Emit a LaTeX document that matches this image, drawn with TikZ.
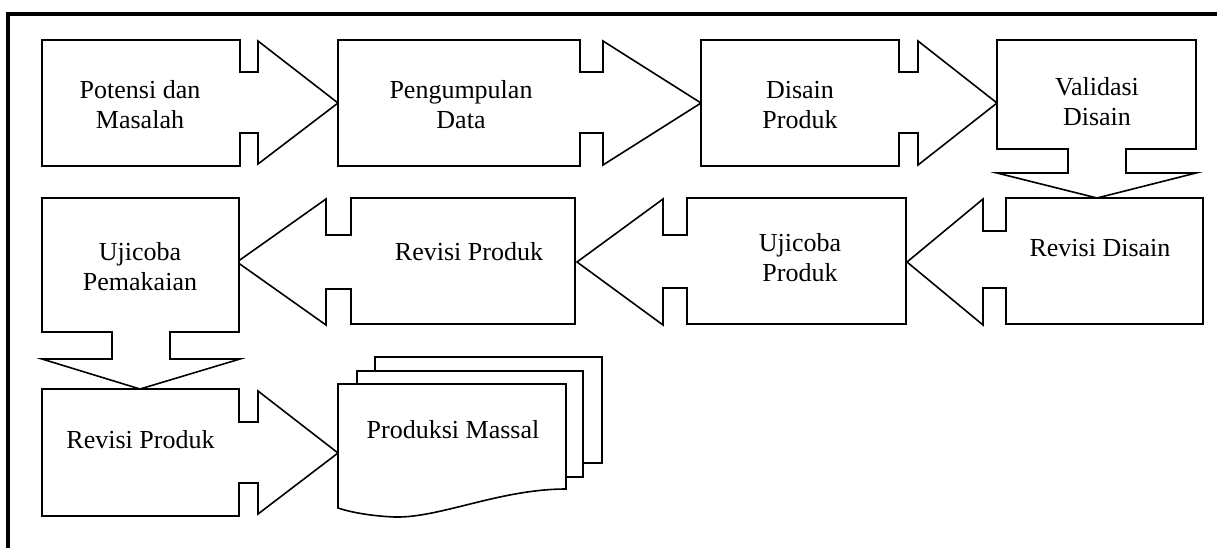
\documentclass[tikz,border=0pt]{standalone}
\usepackage{fontspec}
\setmainfont{Liberation Serif}
\begin{document}
\begin{tikzpicture}[x=1pt,y=-1pt,
  shp/.style={draw=black,line width=1.6pt,fill=white,line join=miter},
  lbl/.style={font=\fontsize{26}{30}\selectfont,inner sep=0pt,align=center,anchor=base,text=black}]
\useasboundingbox[fill=white] (0,0) rectangle (1217,547);
% frame
\draw[line width=3.4pt] (8,560) -- (8,14) -- (1225,14);
% row 1
\draw[shp] (42,40) -- (240,40) -- (240,72) -- (258,72) -- (258,41) -- (338,103) -- (258,164) -- (258,133) -- (240,133) -- (240,166) -- (42,166) -- cycle;
\draw[shp] (338,40) -- (580,40) -- (580,72) -- (603,72) -- (603,41) -- (701,103) -- (603,165) -- (603,133) -- (580,133) -- (580,166) -- (338,166) -- cycle;
\draw[shp] (701,40) -- (899,40) -- (899,72) -- (918,72) -- (918,41) -- (997,103) -- (918,165) -- (918,133) -- (899,133) -- (899,166) -- (701,166) -- cycle;
\draw[shp] (997,40) -- (1196,40) -- (1196,149) -- (1126,149) -- (1126,173) -- (1196,173) -- (1097,198) -- (997,173) -- (1068,173) -- (1068,149) -- (997,149) -- cycle;
% row 2
\draw[shp] (1203,198) -- (1006,198) -- (1006,231) -- (983,231) -- (983,199) -- (907,262) -- (983,325) -- (983,288) -- (1006,288) -- (1006,324) -- (1203,324) -- cycle;
\draw[shp] (906,198) -- (687,198) -- (687,235) -- (663,235) -- (663,199) -- (577,262) -- (663,325) -- (663,288) -- (687,288) -- (687,324) -- (906,324) -- cycle;
\draw[shp] (575,198) -- (351,198) -- (351,235) -- (326,235) -- (326,199) -- (237,262) -- (326,325) -- (326,289) -- (351,289) -- (351,324) -- (575,324) -- cycle;
\draw[shp] (42,198) -- (239,198) -- (239,332) -- (170,332) -- (170,359) -- (240,359) -- (140,389) -- (42,359) -- (112,359) -- (112,332) -- (42,332) -- cycle;
% row 3
\draw[shp] (42,389) -- (239,389) -- (239,422) -- (258,422) -- (258,391) -- (338,453) -- (258,514) -- (258,483) -- (239,483) -- (239,516) -- (42,516) -- cycle;
% multidocument
\draw[shp] (375,357) rectangle (602,463);
\draw[shp] (357,371) rectangle (583,477);
\draw[shp] (338,384) -- (566,384) -- (566,489) .. controls (500,489) and (440,518) .. (395,517) .. controls (370,516) and (350,512) .. (338,508) -- cycle;
% labels
\node[lbl] (t1) at (140,128) {Potensi dan\\Masalah};
\node[lbl] (t2) at (461,128) {Pengumpulan\\Data};
\node[lbl] (t3) at (800,128) {Disain\\Produk};
\node[lbl] (t4) at (1097,125) {Validasi\\Disain};
\node[lbl] (t5) at (1100,256) {Revisi Disain};
\node[lbl] (t6) at (800,281) {Ujicoba\\Produk};
\node[lbl] (t7) at (469,260) {Revisi Produk};
\node[lbl] (t8) at (140,290) {Ujicoba\\Pemakaian};
\node[lbl] (t9) at (140.5,448) {Revisi Produk};
\node[lbl] (t10) at (453,438) {Produksi Massal};
\end{tikzpicture}
\end{document}
